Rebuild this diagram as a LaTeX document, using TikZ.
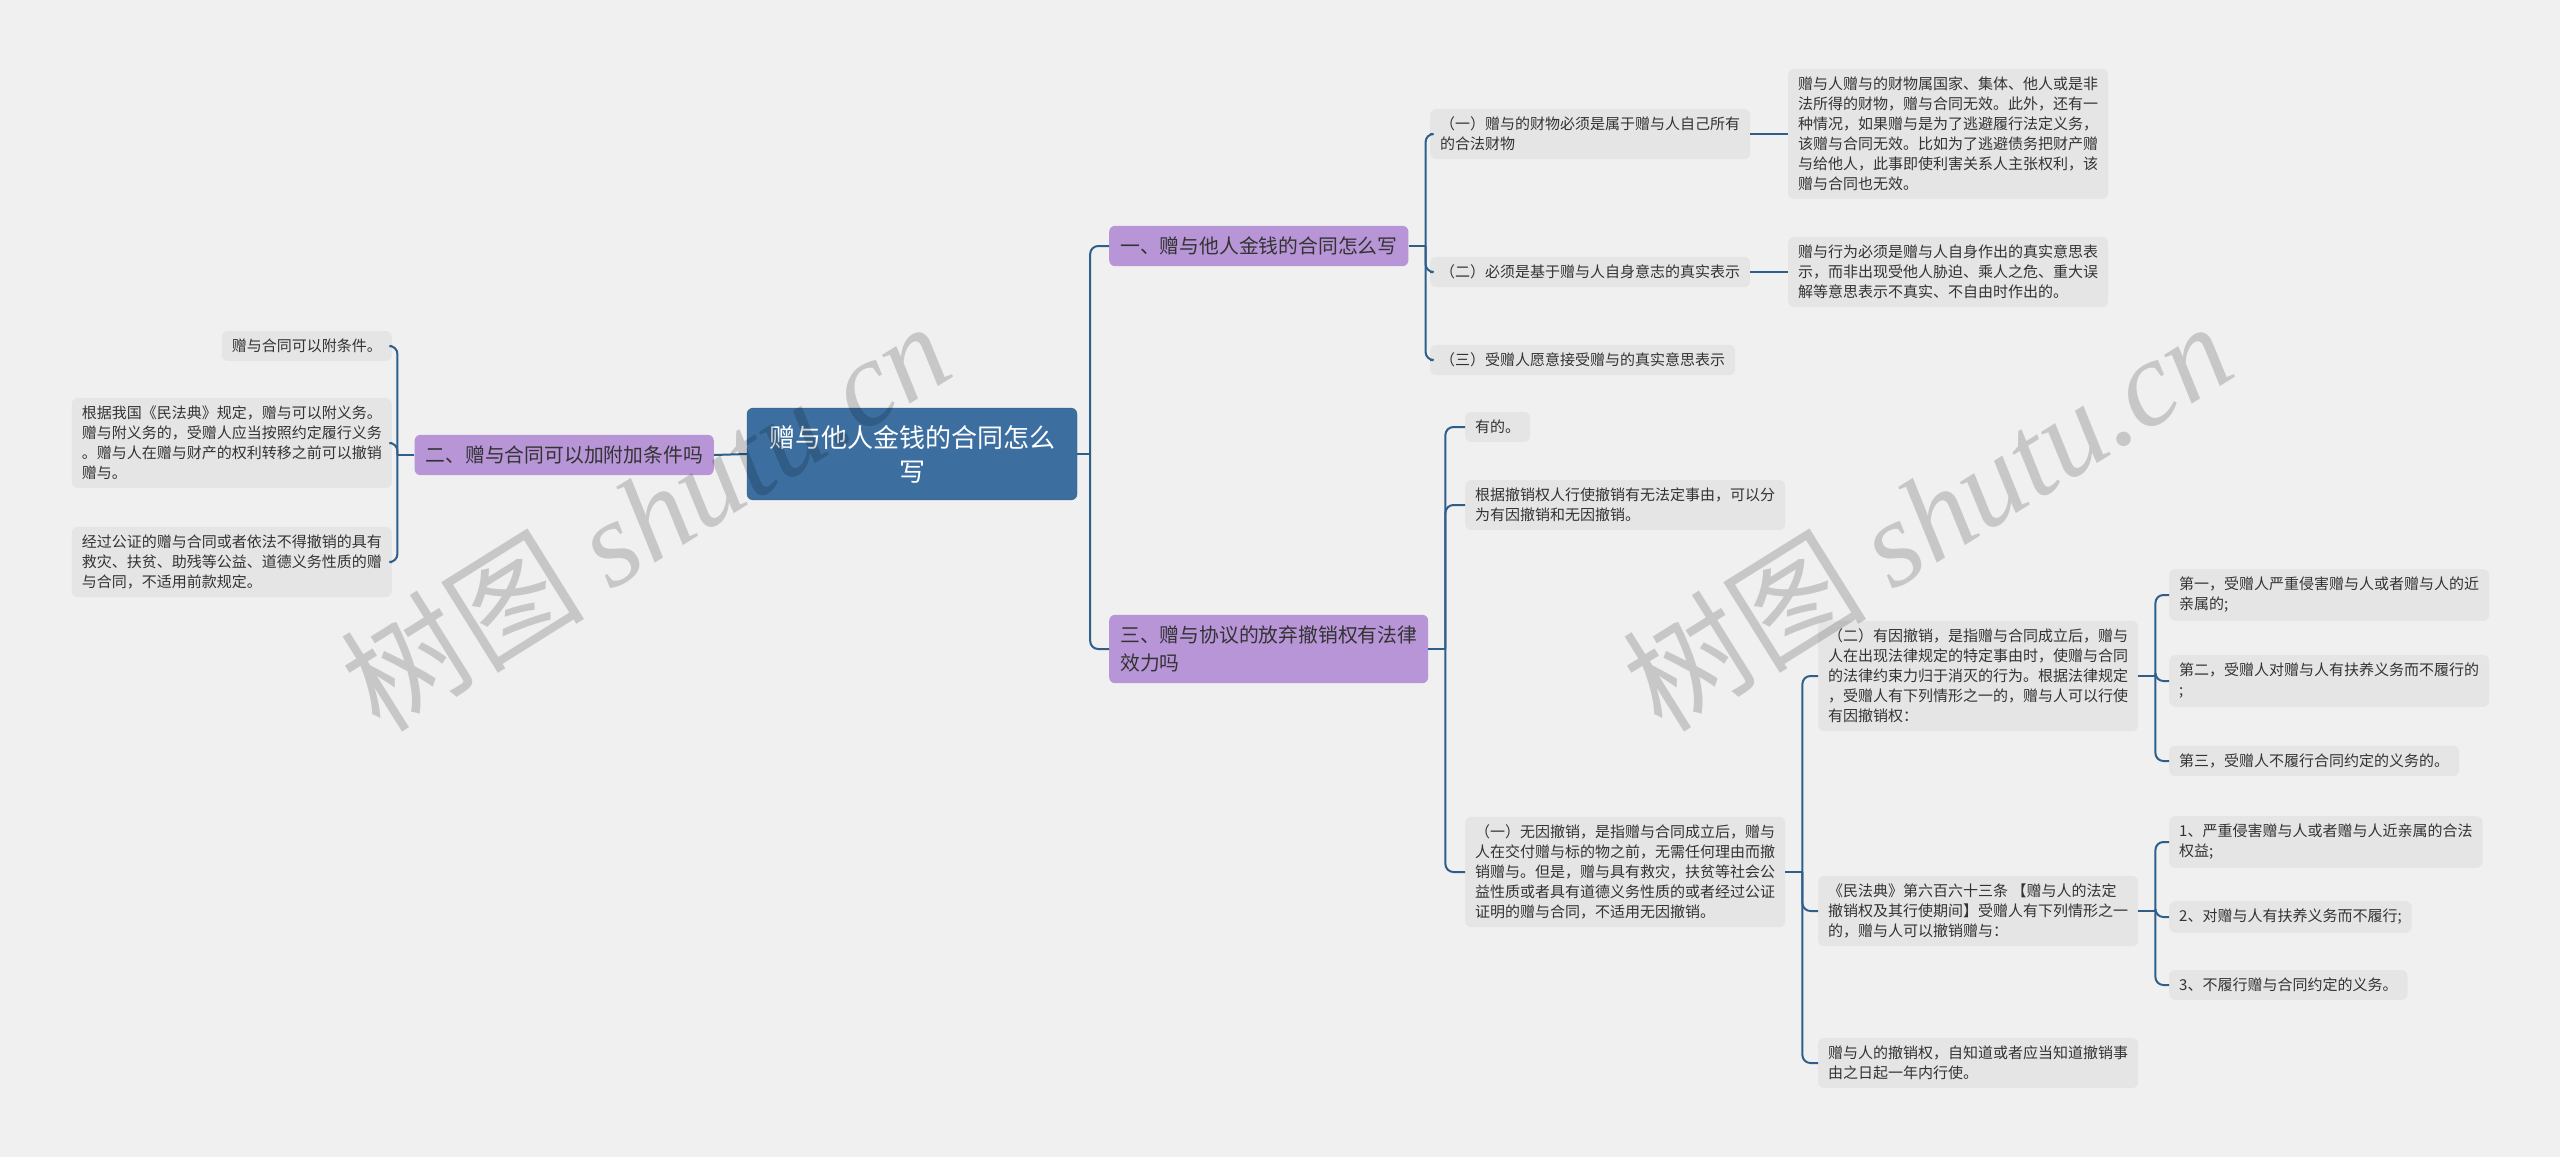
\documentclass[tikz,border=0pt]{standalone}
\usepackage{fontspec}
\setmainfont{Noto Sans CJK SC}
\newfontfamily\wmserif{Liberation Serif}
\usetikzlibrary{positioning,calc}

\definecolor{bgcol}{HTML}{F0F0F0}
\definecolor{leafcol}{HTML}{E5E5E5}
\definecolor{branchcol}{HTML}{B795D7}
\definecolor{rootcol}{HTML}{3C6FA0}
\definecolor{linkcol}{HTML}{2E5E8A}
\definecolor{txtcol}{HTML}{333333}

\tikzset{
  leaf/.style={fill=leafcol, rounded corners=6pt, text=txtcol, align=left,
    inner xsep=10pt, inner ysep=8pt, font={\fontsize{15}{20}\selectfont}},
  branch/.style={fill=branchcol, rounded corners=6pt, text=txtcol, align=left,
    inner xsep=11pt, inner ysep=11pt, font={\fontsize{19.8}{28}\selectfont}},
  rootbox/.style={fill=rootcol, draw=rootcol!85!black, rounded corners=6pt, text=white,
    align=center, inner xsep=22pt, inner ysep=17pt, font={\fontsize{26}{34}\selectfont}},
  link/.style={draw=linkcol, line width=2pt, rounded corners=8pt},
  wmark/.style={text=black, text opacity=0.17, rotate=32, font={\fontsize{122}{122}\selectfont}}
}

\begin{document}
\begin{tikzpicture}[x=1pt,y=-1pt]
\fill[bgcol] (0,0) rectangle (2560,1157);
\useasboundingbox (0,0) rectangle (2560,1157);

% root and main branches
\node[rootbox] (root) at (912,454) {赠与他人金钱的合同怎么\\写};
\node[branch, anchor=west] (b1) at (1109,246) {一、赠与他人金钱的合同怎么写};
\node[branch, anchor=east] (b2) at (714,455) {二、赠与合同可以加附加条件吗};
\node[branch, anchor=west] (b3) at (1109,649) {三、赠与协议的放弃撤销权有法律\\效力吗};

\draw[link] (root.east) -- ++(13,0) coordinate (r0);
\draw[link] (r0) |- (b1.west);
\draw[link] (r0) |- (b3.west);
\draw[link] (root.west) -- (b2.east);

% branch one
\node[leaf, anchor=west] (a1) at (1430,134) {（一）赠与的财物必须是属于赠与人自己所有\\的合法财物};
\node[leaf, anchor=west] (a2) at (1430,272) {（二）必须是基于赠与人自身意志的真实表示};
\node[leaf, anchor=west] (a3) at (1430,360) {（三）受赠人愿意接受赠与的真实意思表示};
\node[leaf, anchor=west] (a1x) at (1788,134) {赠与人赠与的财物属国家、集体、他人或是非\\法所得的财物，赠与合同无效。此外，还有一\\种情况，如果赠与是为了逃避履行法定义务，\\该赠与合同无效。比如为了逃避债务把财产赠\\与给他人，此事即使利害关系人主张权利，该\\赠与合同也无效。};
\node[leaf, anchor=west] (a2x) at (1788,272) {赠与行为必须是赠与人自身作出的真实意思表\\示，而非出现受他人胁迫、乘人之危、重大误\\解等意思表示不真实、不自由时作出的。};

\draw[link] (b1.east) -- ++(17,0) coordinate (t1);
\foreach \n in {a1,a2,a3} \draw[link] (t1) |- (\n.west);
\draw[link] (a1.east) -- (a1x.west);
\draw[link] (a2.east) -- (a2x.west);

% branch two
\node[leaf, anchor=east] (g1) at (392,346) {赠与合同可以附条件。};
\node[leaf, anchor=east] (g2) at (392,443) {根据我国《民法典》规定，赠与可以附义务。\\赠与附义务的，受赠人应当按照约定履行义务\\。赠与人在赠与财产的权利转移之前可以撤销\\赠与。};
\node[leaf, anchor=east] (g3) at (392,562) {经过公证的赠与合同或者依法不得撤销的具有\\救灾、扶贫、助残等公益、道德义务性质的赠\\与合同，不适用前款规定。};

\draw[link] (b2.west) -- ++(-17,0) coordinate (t2);
\foreach \n in {g1,g2,g3} \draw[link] (t2) |- (\n.east);

% branch three
\node[leaf, anchor=west] (c1) at (1465,427) {有的。};
\node[leaf, anchor=west] (c2) at (1465,505) {根据撤销权人行使撤销有无法定事由，可以分\\为有因撤销和无因撤销。};
\node[leaf, anchor=west] (c3) at (1465,872) {（一）无因撤销，是指赠与合同成立后，赠与\\人在交付赠与标的物之前，无需任何理由而撤\\销赠与。但是，赠与具有救灾，扶贫等社会公\\益性质或者具有道德义务性质的或者经过公证\\证明的赠与合同，不适用无因撤销。};

\draw[link] (b3.east) -- ++(17,0) coordinate (t3);
\foreach \n in {c1,c2,c3} \draw[link] (t3) |- (\n.west);

\node[leaf, anchor=west] (d1) at (1818,676) {（二）有因撤销，是指赠与合同成立后，赠与\\人在出现法律规定的特定事由时，使赠与合同\\的法律约束力归于消灭的行为。根据法律规定\\，受赠人有下列情形之一的，赠与人可以行使\\有因撤销权：};
\node[leaf, anchor=west] (d2) at (1818,911) {《民法典》第六百六十三条 【赠与人的法定\\撤销权及其行使期间】受赠人有下列情形之一\\的，赠与人可以撤销赠与：};
\node[leaf, anchor=west] (d3) at (1818,1063) {赠与人的撤销权，自知道或者应当知道撤销事\\由之日起一年内行使。};

\draw[link] (c3.east) -- ++(17,0) coordinate (t4);
\foreach \n in {d1,d2,d3} \draw[link] (t4) |- (\n.west);

\node[leaf, anchor=west] (e1) at (2169,595) {第一，受赠人严重侵害赠与人或者赠与人的近\\亲属的;};
\node[leaf, anchor=west] (e2) at (2169,681) {第二，受赠人对赠与人有扶养义务而不履行的\\;};
\node[leaf, anchor=west] (e3) at (2169,761) {第三，受赠人不履行合同约定的义务的。};

\draw[link] (d1.east) -- ++(17,0) coordinate (t5);
\foreach \n in {e1,e2,e3} \draw[link] (t5) |- (\n.west);

\node[leaf, anchor=west] (f1) at (2169,842) {1、严重侵害赠与人或者赠与人近亲属的合法\\权益;};
\node[leaf, anchor=west] (f2) at (2169,917) {2、对赠与人有扶养义务而不履行;};
\node[leaf, anchor=west] (f3) at (2169,985) {3、不履行赠与合同约定的义务。};

\draw[link] (d2.east) -- ++(17,0) coordinate (t6);
\foreach \n in {f1,f2,f3} \draw[link] (t6) |- (\n.west);

% watermark
\node[wmark] (wm1) at (645,515) {树图 {\wmserif\itshape shutu.cn}};
\node[wmark] (wm2) at (1927,515) {树图 {\wmserif\itshape shutu.cn}};
\end{tikzpicture}
\end{document}
